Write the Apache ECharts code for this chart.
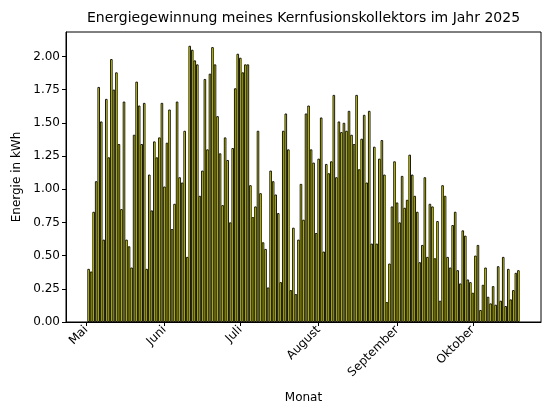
<!DOCTYPE html>
<html>
<head>
<meta charset="utf-8">
<script src="https://cdn.jsdelivr.net/npm/echarts@6/dist/echarts.min.js"></script>
<style>
  html, body { margin: 0; padding: 0; background: #fff; }
  #chart { width: 554px; height: 416px; }
</style>
</head>
<body>
<div id="chart"></div>
<script>
// Tagesertrag, Index 0 = 2. Mai 2025
var energie = [
    0.40, 0.38, 0.83, 1.06, 1.77, 1.51, 0.62, 1.68, 1.24, 1.98,
    1.75, 1.88, 1.34, 0.85, 1.66, 0.62, 0.57, 0.41, 1.41, 1.81,
    1.63, 1.34, 1.65, 0.40, 1.11, 0.84, 1.36, 1.24, 1.39, 1.65,
    1.02, 1.35, 1.60, 0.70, 0.89, 1.66, 1.09, 1.05, 1.44, 0.49,
    2.08, 2.05, 1.97, 1.94, 0.95, 1.14, 1.83, 1.30, 1.87, 2.07,
    1.94, 1.55, 1.27, 0.88, 1.39, 1.22, 0.75, 1.31, 1.76, 2.02,
    1.99, 1.88, 1.94, 1.94, 1.03, 0.79, 0.87, 1.44, 0.97, 0.60,
    0.55, 0.26, 1.14, 1.06, 0.96, 0.82, 0.30, 1.44, 1.57, 1.30,
    0.24, 0.71, 0.21, 0.62, 1.04, 0.77, 1.57, 1.63, 1.30, 1.20,
    0.67, 1.23, 1.54, 0.53, 1.19, 1.12, 1.21, 1.71, 1.09, 1.51,
    1.43, 1.50, 1.44, 1.59, 1.41, 1.34, 1.71, 1.15, 1.38, 1.56,
    1.05, 1.59, 0.59, 1.32, 0.59, 1.23, 1.37, 1.11, 0.15, 0.44,
    0.87, 1.21, 0.90, 0.75, 1.10, 0.86, 0.92, 1.26, 1.11, 0.95,
    0.83, 0.45, 0.58, 1.09, 0.49, 0.89, 0.87, 0.48, 0.76, 0.16,
    1.03, 0.95, 0.49, 0.41, 0.73, 0.83, 0.39, 0.29, 0.69, 0.65,
    0.32, 0.30, 0.22, 0.50, 0.58, 0.09, 0.28, 0.41, 0.19, 0.14,
    0.27, 0.13, 0.42, 0.16, 0.49, 0.12, 0.40, 0.17, 0.24, 0.37,
    0.39
];

// Monatsanfaenge in Tagen relativ zum ersten Balken
var monatPos = [-1, 30, 60, 91, 122, 152];
var monatNamen = ['Mai', 'Juni', 'Juli', 'August', 'September', 'Oktober'];

var yTicks = [0, 0.25, 0.5, 0.75, 1.0, 1.25, 1.5, 1.75, 2.0];

var schrift = 'DejaVu Sans';

var daten = energie.map(function (v, i) { return [i, v]; });

var chart = echarts.init(document.getElementById('chart'));

var option = {
    animation: false,
    backgroundColor: '#fff',
    graphic: [{
        type: 'text',
        x: 303.5,
        y: 11,
        style: {
            text: 'Energiegewinnung meines Kernfusionskollektors im Jahr 2025',
            textAlign: 'center',
            textVerticalAlign: 'top',
            font: '14px "DejaVu Sans"',
            fill: '#000'
        }
    }],
    grid: {
        left: 66,
        right: 13,
        top: 32,
        bottom: 94,
        show: true,
        borderColor: '#000',
        borderWidth: 1
    },
    xAxis: {
        type: 'value',
        min: -8.94,
        max: 178.94,
        name: 'Monat',
        nameLocation: 'middle',
        nameGap: 70,
        nameTextStyle: { color: '#000', fontSize: 12, fontFamily: schrift },
        splitLine: { show: false },
        axisLine: { onZero: false, lineStyle: { color: '#000', width: 1 } },
        axisTick: {
            customValues: monatPos,
            length: 4,
            lineStyle: { color: '#000' }
        },
        axisLabel: {
            customValues: monatPos,
            rotate: 45,
            margin: 6,
            color: '#000',
            fontSize: 12,
            fontFamily: schrift,
            formatter: function (v) {
                var k = monatPos.indexOf(Math.round(v));
                return k >= 0 ? monatNamen[k] : '';
            }
        }
    },
    yAxis: {
        type: 'value',
        min: 0,
        max: 2.184,
        name: 'Energie in kWh',
        nameLocation: 'middle',
        nameGap: 42,
        nameTextStyle: { color: '#000', fontSize: 12, fontFamily: schrift },
        splitLine: { show: false },
        axisLine: { show: true, onZero: false, lineStyle: { color: '#000', width: 1 } },
        axisTick: {
            show: true,
            customValues: yTicks,
            length: 4,
            lineStyle: { color: '#000' }
        },
        axisLabel: {
            customValues: yTicks,
            margin: 6,
            color: '#000',
            fontSize: 12,
            fontFamily: schrift,
            formatter: function (v) { return v.toFixed(2); }
        }
    },
    series: [{
        type: 'bar',
        data: daten,
        barWidth: 2.5,
        itemStyle: {
            color: '#ffff00',
            borderColor: '#000',
            borderWidth: 0.9
        }
    }]
};

chart.setOption(option);
</script>
</body>
</html>
